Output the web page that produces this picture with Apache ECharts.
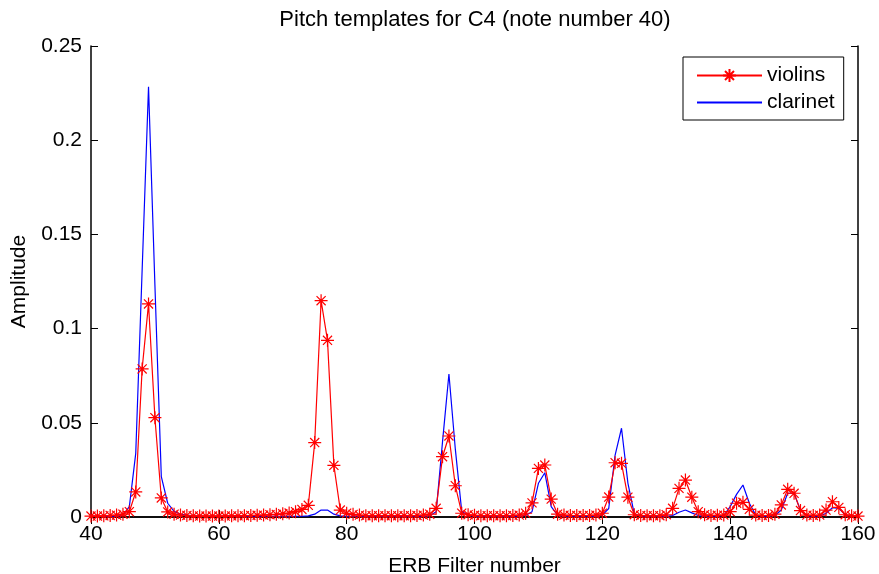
<!DOCTYPE html>
<html>
<head>
<meta charset="utf-8">
<script src="https://cdn.jsdelivr.net/npm/echarts@6/dist/echarts.min.js"></script>
<style>
  html, body { margin: 0; padding: 0; background: #fff; }
  #chart { width: 879px; height: 574px; }
</style>
</head>
<body>
<div id="chart"></div>
<script>
// ERB filter numbers 40..160, one template value per filter
const filterStart = 40;
const filterEnd = 160;

const violins = [
  0.0005, 0.0005, 0.0006, 0.0008, 0.0010, 0.0015, 0.0028, 0.0133, 0.0786, 0.1131, // 40-49
  0.0527, 0.0101, 0.0027, 0.0015, 0.0010, 0.0008, 0.0006, 0.0005, 0.0005, 0.0005, // 50-59
  0.0005, 0.0005, 0.0006, 0.0006, 0.0007, 0.0008, 0.0009, 0.0010, 0.0012, 0.0014, // 60-69
  0.0017, 0.0021, 0.0028, 0.0040, 0.0062, 0.0395, 0.1148, 0.0938, 0.0274, 0.0037, // 70-79
  0.0020, 0.0014, 0.0010, 0.0007, 0.0007, 0.0007, 0.0007, 0.0007, 0.0007, 0.0007, // 80-89
  0.0007, 0.0008, 0.0010, 0.0015, 0.0046, 0.0320, 0.0430, 0.0166, 0.0020, 0.0012, // 90-99
  0.0009, 0.0007, 0.0007, 0.0007, 0.0007, 0.0007, 0.0008, 0.0010, 0.0020, 0.0075, // 100-109
  0.0258, 0.0276, 0.0095, 0.0015, 0.0010, 0.0008, 0.0008, 0.0008, 0.0008, 0.0010, // 110-119
  0.0020, 0.0106, 0.0288, 0.0285, 0.0105, 0.0012, 0.0008, 0.0007, 0.0007, 0.0007, // 120-129
  0.0012, 0.0046, 0.0152, 0.0196, 0.0105, 0.0028, 0.0012, 0.0008, 0.0009, 0.0010, // 130-139
  0.0028, 0.0073, 0.0078, 0.0041, 0.0010, 0.0008, 0.0008, 0.0015, 0.0064, 0.0147, // 140-149
  0.0126, 0.0034, 0.0010, 0.0008, 0.0010, 0.0037, 0.0081, 0.0051, 0.0012, 0.0006, // 150-159
  0.0005                                                                          // 160
];

const clarinet = [
  0.0004, 0.0004, 0.0004, 0.0004, 0.0004, 0.0010, 0.0055, 0.0338, 0.1310, 0.2284, // 40-49
  0.1230, 0.0214, 0.0073, 0.0030, 0.0015, 0.0010, 0.0006, 0.0004, 0.0004, 0.0004, // 50-59
  0.0004, 0.0004, 0.0004, 0.0004, 0.0004, 0.0004, 0.0004, 0.0004, 0.0004, 0.0004, // 60-69
  0.0004, 0.0004, 0.0004, 0.0004, 0.0006, 0.0015, 0.0037, 0.0037, 0.0015, 0.0006, // 70-79
  0.0004, 0.0004, 0.0004, 0.0004, 0.0004, 0.0004, 0.0004, 0.0004, 0.0004, 0.0004, // 80-89
  0.0004, 0.0004, 0.0004, 0.0006, 0.0028, 0.0400, 0.0759, 0.0360, 0.0030, 0.0008, // 90-99
  0.0004, 0.0004, 0.0004, 0.0004, 0.0004, 0.0004, 0.0004, 0.0004, 0.0008, 0.0028, // 100-109
  0.0179, 0.0235, 0.0055, 0.0010, 0.0004, 0.0004, 0.0004, 0.0004, 0.0004, 0.0004, // 110-119
  0.0010, 0.0045, 0.0329, 0.0471, 0.0180, 0.0015, 0.0005, 0.0004, 0.0004, 0.0004, // 120-129
  0.0004, 0.0008, 0.0025, 0.0037, 0.0022, 0.0008, 0.0004, 0.0004, 0.0004, 0.0008, // 130-139
  0.0055, 0.0120, 0.0170, 0.0073, 0.0010, 0.0004, 0.0004, 0.0008, 0.0037, 0.0126, // 140-149
  0.0126, 0.0035, 0.0006, 0.0004, 0.0004, 0.0020, 0.0049, 0.0046, 0.0012, 0.0004, // 150-159
  0.0004                                                                          // 160
];

const xTicks = [40, 60, 80, 100, 120, 140, 160];
const yTicks = [0, 0.05, 0.1, 0.15, 0.2, 0.25];

const filters = [];
for (let f = filterStart; f <= filterEnd; f++) filters.push(f);
const pairs = (vals) => filters.map((f, i) => [f, vals[i]]);

const FONT = 'Liberation Sans, Arial, Helvetica, sans-serif';
const FS = 21;
// asterisk marker: plus sign overlaid with a cross
const ASTERISK = 'path://M0,5L10,5M5,0L5,10M1.5,1.5L8.5,8.5M8.5,1.5L1.5,8.5';

const chart = echarts.init(document.getElementById('chart'), null, { renderer: 'canvas' });

const axisLine = { show: true, lineStyle: { color: '#000', width: 1.5 } };
const tick = { show: true, inside: true, length: 7, lineStyle: { color: '#000', width: 1 } };

chart.setOption({
  backgroundColor: '#fff',
  animation: false,
  title: {
    text: 'Pitch templates for C4 (note number 40)',
    left: 470,
    textAlign: 'center',
    top: 4,
    textStyle: { fontFamily: FONT, fontSize: 22, fontWeight: 'normal', color: '#000' }
  },
  grid: { left: 91, right: 21, top: 46, bottom: 57, containLabel: false, outerBoundsMode: 'none' },
  legend: {
    orient: 'vertical',
    left: 683,
    top: 57,
    padding: [8, 9, 7, 13],
    itemGap: 6,
    itemWidth: 65,
    itemHeight: 16,
    backgroundColor: '#fff',
    borderColor: '#000',
    borderWidth: 1,
    textStyle: { fontFamily: FONT, fontSize: FS, color: '#000' },
    data: [
      { name: 'violins' },
      // plain line sample for the clarinet entry, no marker
      { name: 'clarinet', itemStyle: { color: 'rgba(0,0,0,0)', borderColor: 'rgba(0,0,0,0)', borderWidth: 0 } }
    ]
  },
  xAxis: [
    {
      type: 'value',
      min: xTicks[0],
      max: xTicks[xTicks.length - 1],
      interval: 20,
      name: 'ERB Filter number',
      nameLocation: 'middle',
      nameGap: 39,
      nameTextStyle: { fontFamily: FONT, fontSize: FS, color: '#000' },
      axisLine: axisLine,
      axisTick: tick,
      axisLabel: { fontFamily: FONT, fontSize: FS, color: '#000', margin: 7 },
      splitLine: { show: false }
    },
    {
      type: 'value',
      position: 'top',
      min: xTicks[0],
      max: xTicks[xTicks.length - 1],
      interval: 20,
      axisLine: axisLine,
      axisTick: tick,
      axisLabel: { show: false },
      splitLine: { show: false }
    }
  ],
  yAxis: [
    {
      type: 'value',
      min: yTicks[0],
      max: yTicks[yTicks.length - 1],
      interval: 0.05,
      name: 'Amplitude',
      nameLocation: 'middle',
      nameGap: 61,
      nameTextStyle: { fontFamily: FONT, fontSize: FS, color: '#000' },
      axisLine: axisLine,
      axisTick: tick,
      axisLabel: { fontFamily: FONT, fontSize: FS, color: '#000', margin: 9 },
      splitLine: { show: false }
    },
    {
      type: 'value',
      position: 'right',
      min: yTicks[0],
      max: yTicks[yTicks.length - 1],
      interval: 0.05,
      axisLine: axisLine,
      axisTick: tick,
      axisLabel: { show: false },
      splitLine: { show: false }
    }
  ],
  series: [
    {
      name: 'clarinet',
      type: 'line',
      data: pairs(clarinet),
      showSymbol: false,
      symbol: 'none',
      lineStyle: { color: '#0000ff', width: 1.2 },
      itemStyle: { color: '#0000ff' },
      z: 2
    },
    {
      name: 'violins',
      type: 'line',
      data: pairs(violins),
      symbol: ASTERISK,
      symbolSize: 13,
      showSymbol: true,
      showAllSymbol: true,
      lineStyle: { color: '#ff0000', width: 1.2 },
      itemStyle: { color: '#ff0000', borderColor: '#ff0000', borderWidth: 1.2 },
      z: 3
    }
  ]
});
</script>
</body>
</html>
